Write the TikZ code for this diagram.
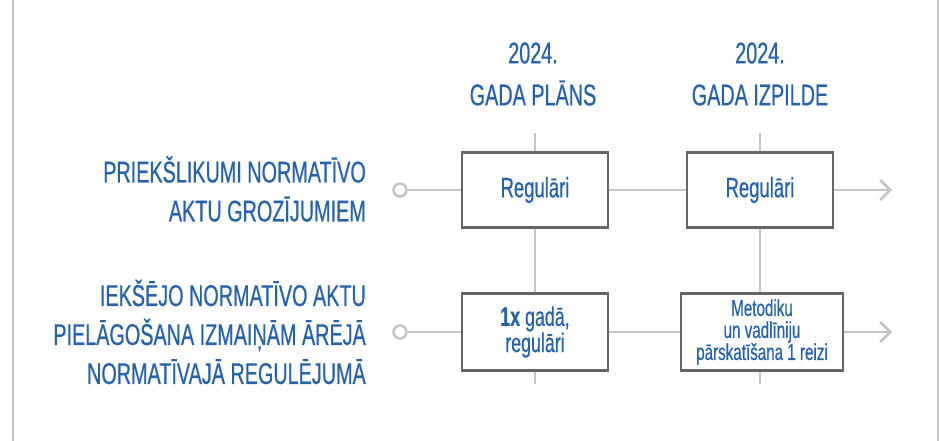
\documentclass[tikz,border=0pt]{standalone}
\usepackage{fontspec}
\setmainfont{Liberation Sans}[FakeStretch=0.66, FakeBold=0.5]
\usetikzlibrary{arrows.meta}
\definecolor{txtblue}{RGB}{38,98,170}
\definecolor{linegray}{RGB}{196,196,196}
\definecolor{boxgray}{RGB}{100,102,105}

\begin{document}
\begin{tikzpicture}[x=1pt, y=-1pt,
    rowlabel/.style={anchor=east, align=right, text=txtblue, inner sep=0pt,
      font=\fontsize{30}{39}\selectfont},
    header/.style={align=center, text=txtblue, inner sep=0pt,
      font=\fontsize{30}{42}\selectfont},
    cell/.style={draw=boxgray, line width=2.5pt, fill=white, align=center,
      text=txtblue, inner sep=0pt, minimum height=75pt},
    link/.style={draw=linegray, line width=2.5pt},
    start/.style={circle, draw=linegray, line width=2.5pt, fill=white,
      minimum size=13pt, inner sep=0pt}]
    \useasboundingbox (0,0) rectangle (939,441);
    % frame
    \draw[linegray, line width=2pt] (13,0) -- (13,441);
    \draw[linegray, line width=2pt] (937.5,0) -- (937.5,441);
    % column heads
    \node (h1) at (533, 74) [header] {2024.\\GADA PLĀNS};
    \node (h2) at (760, 74) [header] {2024.\\GADA IZPILDE};
    % rows
    \node (r1) at (366, 189) [rowlabel] {PRIEKŠLIKUMI NORMATĪVO\\AKTU GROZĪJUMIEM};
    \node (r2) at (366, 332) [rowlabel] {IEKŠĒJO NORMATĪVO AKTU\\PIELĀGOŠANA IZMAIŅĀM ĀRĒJĀ\\NORMATĪVAJĀ REGULĒJUMĀ};
    \node (s1) at (400, 190) [start] {};
    \node (s2) at (400, 332) [start] {};
    \coordinate (t1) at (535, 133);
    \coordinate (t2) at (760, 133);
    \coordinate (u1) at (535, 384);
    \coordinate (u2) at (760, 384);
    \coordinate (e1) at (892, 190);
    \coordinate (e2) at (892, 332);
    % boxes
    \node (b1) at (535, 190) [cell, minimum width=146pt, font=\fontsize{28}{30}\selectfont] {Regulāri};
    \node (b2) at (760, 190) [cell, minimum width=146pt, font=\fontsize{28}{30}\selectfont] {Regulāri};
    \node (b3) at (535, 332) [cell, minimum width=146pt, minimum height=77pt, font=\fontsize{27}{25}\selectfont] {\textbf{1x} gadā,\\regulāri};
    \node (b4) at (762, 332) [cell, minimum width=162pt, minimum height=77pt, font=\fontsize{23}{22}\selectfont] {Metodiku\\un vadlīniju\\pārskatīšana 1 reizi};
    % connectors
    \draw[link] (s1) -- (b1);
    \draw[link] (b1) -- (b2);
    \draw[link, -{Straight Barb[length=10pt, width=20pt]}] (b2) -- (e1);
    \draw[link] (s2) -- (b3);
    \draw[link] (b3) -- (b4);
    \draw[link, -{Straight Barb[length=10pt, width=20pt]}] (b4) -- (e2);
    \draw[link] (t1) -- (b1);
    \draw[link] (b1) -- (b3);
    \draw[link] (b3) -- (u1);
    \draw[link] (t2) -- (b2);
    \draw[link] (b2.south) -- (b2.south |- b4.north);
    \draw[link] (b4.south -| u2) -- (u2);
\end{tikzpicture}
\end{document}
